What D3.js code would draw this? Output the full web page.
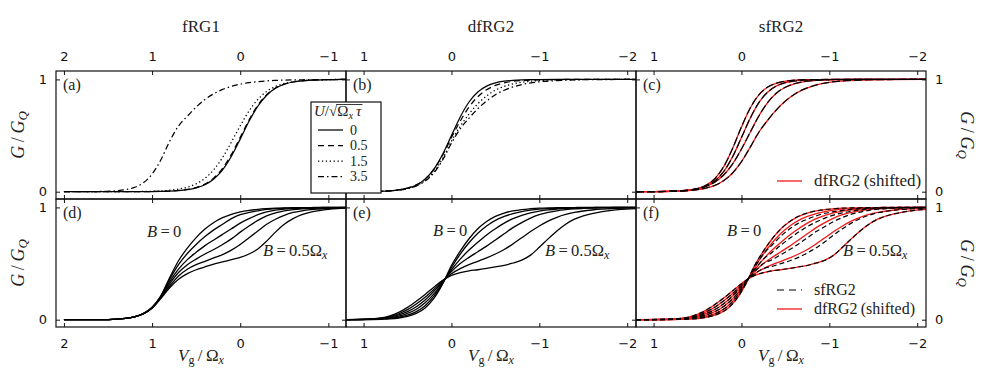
<!DOCTYPE html>
<html><head><meta charset="utf-8">
<script src="https://cdn.jsdelivr.net/npm/d3@7"></script>
<style>body{margin:0;background:#fff}svg{display:block}</style>
</head><body>
<svg id="chart" width="997" height="376"></svg>
<script>
// ---------------- DATA ----------------
const TITLES = ["fRG1", "dfRG2", "sfRG2"];
const PANEL_TAGS = ["(a)", "(b)", "(c)", "(d)", "(e)", "(f)"];
const TICKS_COL1 = [2, 1, 0, -1];
const TICKS_COL23 = [1, 0, -1, -2];
const Y_TICKS = [0, 1];
const U_LABELS = ["0", "0.5", "1.5", "3.5"];

// panel (a): fRG1, U = 0, 0.5, 1.5, 3.5
const A_V = [2.0, 1.8, 1.6, 1.5, 1.4, 1.3, 1.2, 1.1, 1.0, 0.9, 0.8, 0.7, 0.6, 0.5, 0.4, 0.3, 0.2, 0.1, 0.0, -0.1, -0.2, -0.3, -0.4, -0.5, -0.6, -0.7, -0.8, -1.0, -1.2];
const A_U0  = [0, 0, 0, 0, 0.0001, 0.0002, 0.0004, 0.0007, 0.0014, 0.0027, 0.005, 0.0095, 0.018, 0.034, 0.062, 0.113, 0.195, 0.316, 0.468, 0.627, 0.761, 0.859, 0.921, 0.957, 0.977, 0.988, 0.993, 0.998, 1.0];
const A_U05 = [0, 0, 0, 0, 0.0001, 0.0002, 0.0005, 0.0009, 0.0017, 0.003, 0.0057, 0.011, 0.020, 0.037, 0.069, 0.122, 0.208, 0.332, 0.484, 0.639, 0.770, 0.864, 0.923, 0.958, 0.977, 0.988, 0.994, 0.998, 1.0];
const A_U15 = [0, 0, 0.0002, 0.0002, 0.0004, 0.0007, 0.0012, 0.002, 0.004, 0.007, 0.013, 0.023, 0.040, 0.070, 0.119, 0.196, 0.305, 0.442, 0.587, 0.719, 0.822, 0.893, 0.937, 0.964, 0.980, 0.989, 0.994, 0.998, 1.0];
const A_U35 = [0.0001, 0.0004, 0.0018, 0.004, 0.0084, 0.018, 0.038, 0.079, 0.156, 0.285, 0.45, 0.585, 0.673, 0.754, 0.821, 0.872, 0.911, 0.938, 0.958, 0.971, 0.980, 0.987, 0.991, 0.994, 0.996, 0.997, 0.998, 0.999, 1.0];

// panel (b): dfRG2, U = 0, 0.5, 1.5, 3.5
const B_V = [1.2, 1.0, 0.9, 0.8, 0.7, 0.6, 0.5, 0.4, 0.3, 0.2, 0.1, 0.0, -0.1, -0.2, -0.3, -0.4, -0.5, -0.6, -0.7, -0.8, -0.9, -1.0, -1.2, -1.4, -1.7, -2.1];
const B_U0  = [0.0003, 0.001, 0.002, 0.004, 0.008, 0.016, 0.031, 0.060, 0.112, 0.201, 0.334, 0.5, 0.666, 0.799, 0.888, 0.940, 0.969, 0.984, 0.992, 0.996, 0.998, 0.999, 1, 1, 1, 1];
const B_U05 = [0.0003, 0.0012, 0.0023, 0.0045, 0.0087, 0.017, 0.032, 0.061, 0.112, 0.198, 0.325, 0.483, 0.629, 0.754, 0.846, 0.908, 0.947, 0.970, 0.983, 0.990, 0.995, 0.997, 0.999, 1, 1, 1];
const B_U15 = [0.0003, 0.001, 0.002, 0.004, 0.0076, 0.015, 0.028, 0.054, 0.100, 0.178, 0.296, 0.450, 0.583, 0.692, 0.783, 0.853, 0.904, 0.938, 0.960, 0.975, 0.984, 0.990, 0.996, 0.9985, 0.9997, 1];
const B_U35 = [0.0003, 0.001, 0.002, 0.0037, 0.0072, 0.014, 0.027, 0.051, 0.094, 0.168, 0.283, 0.433, 0.560, 0.655, 0.739, 0.808, 0.863, 0.904, 0.933, 0.954, 0.969, 0.979, 0.990, 0.996, 0.9987, 1];

// panel (c): sfRG2 (black) and dfRG2 shifted (red), U = 0, 0.5, 1.5, 3.5 (grid B_V)
const C_U0  = [0.0001, 0.0006, 0.0014, 0.0029, 0.0062, 0.013, 0.028, 0.059, 0.119, 0.226, 0.387, 0.577, 0.746, 0.864, 0.932, 0.967, 0.984, 0.993, 0.997, 0.9985, 0.999, 1, 1, 1, 1, 1];
const C_U05 = [0.0002, 0.0007, 0.0015, 0.003, 0.0062, 0.013, 0.026, 0.051, 0.099, 0.182, 0.312, 0.482, 0.655, 0.796, 0.888, 0.942, 0.971, 0.985, 0.993, 0.996, 0.998, 0.999, 1, 1, 1, 1];
const C_U15 = [0.0004, 0.0013, 0.0024, 0.0044, 0.008, 0.015, 0.027, 0.049, 0.087, 0.151, 0.248, 0.380, 0.530, 0.677, 0.796, 0.879, 0.930, 0.961, 0.979, 0.988, 0.994, 0.997, 0.999, 1, 1, 1];
const C_U35 = [0.0003, 0.001, 0.0017, 0.003, 0.0056, 0.010, 0.018, 0.033, 0.057, 0.100, 0.167, 0.267, 0.397, 0.532, 0.638, 0.731, 0.807, 0.866, 0.909, 0.939, 0.960, 0.974, 0.989, 0.995, 0.999, 1];

// panel (d): fRG1, B = 0 ... 0.5
const D_V = [2.0, 1.6, 1.4, 1.3, 1.2, 1.1, 1.0, 0.9, 0.8, 0.7, 0.6, 0.5, 0.4, 0.3, 0.2, 0.1, 0.0, -0.1, -0.2, -0.3, -0.4, -0.5, -0.6, -0.7, -0.8, -0.9, -1.0, -1.1, -1.2];
const D_B0 = [0, 0.001, 0.006, 0.012, 0.026, 0.055, 0.111, 0.213, 0.375, 0.525, 0.638, 0.731, 0.807, 0.866, 0.909, 0.939, 0.960, 0.974, 0.983, 0.989, 0.993, 0.995, 0.997, 0.998, 0.999, 1, 1, 1, 1];
const D_B1 = [0, 0.001, 0.006, 0.012, 0.026, 0.054, 0.109, 0.21, 0.36, 0.49, 0.59, 0.67, 0.74, 0.80, 0.85, 0.90, 0.935, 0.955, 0.970, 0.982, 0.989, 0.993, 0.995, 0.997, 0.998, 0.999, 1, 1, 1];
const D_B2 = [0, 0.001, 0.006, 0.012, 0.026, 0.053, 0.107, 0.205, 0.34, 0.45, 0.535, 0.60, 0.66, 0.71, 0.76, 0.81, 0.86, 0.90, 0.935, 0.96, 0.975, 0.985, 0.99, 0.994, 0.996, 0.997, 0.998, 0.999, 1];
const D_B3 = [0, 0.001, 0.006, 0.012, 0.026, 0.053, 0.106, 0.20, 0.32, 0.42, 0.49, 0.54, 0.585, 0.625, 0.67, 0.72, 0.78, 0.835, 0.885, 0.925, 0.952, 0.97, 0.98, 0.987, 0.992, 0.994, 0.996, 0.998, 0.999];
const D_B4 = [0, 0.001, 0.006, 0.012, 0.025, 0.052, 0.105, 0.195, 0.30, 0.39, 0.45, 0.49, 0.52, 0.55, 0.58, 0.62, 0.67, 0.73, 0.79, 0.85, 0.895, 0.93, 0.955, 0.97, 0.98, 0.986, 0.991, 0.995, 0.997];
const D_B5 = [0, 0.001, 0.006, 0.012, 0.025, 0.052, 0.103, 0.19, 0.285, 0.36, 0.41, 0.445, 0.47, 0.495, 0.515, 0.535, 0.555, 0.585, 0.63, 0.70, 0.78, 0.85, 0.90, 0.935, 0.958, 0.972, 0.982, 0.989, 0.993];

// panel (e): dfRG2, B = 0 ... 0.5
const E_V = [1.2, 1.0, 0.9, 0.8, 0.7, 0.6, 0.5, 0.4, 0.3, 0.2, 0.1, 0.0, -0.1, -0.2, -0.3, -0.4, -0.5, -0.6, -0.7, -0.8, -0.9, -1.0, -1.1, -1.2, -1.3, -1.4, -1.5, -1.6, -1.7, -1.8, -1.9, -2.1];
const E_B0 = [0.0002, 0.001, 0.002, 0.004, 0.0074, 0.015, 0.029, 0.056, 0.105, 0.190, 0.319, 0.483, 0.611, 0.721, 0.810, 0.875, 0.921, 0.950, 0.969, 0.981, 0.988, 0.993, 0.996, 0.997, 0.998, 0.999, 1, 1, 1, 1, 1, 1];
const E_B1 = [0.0003, 0.0015, 0.003, 0.006, 0.012, 0.022, 0.04, 0.072, 0.125, 0.21, 0.325, 0.465, 0.585, 0.685, 0.77, 0.835, 0.885, 0.92, 0.945, 0.963, 0.975, 0.984, 0.99, 0.993, 0.995, 0.997, 0.998, 0.999, 1, 1, 1, 1];
const E_B2 = [0.0005, 0.002, 0.004, 0.009, 0.018, 0.032, 0.056, 0.093, 0.15, 0.23, 0.333, 0.445, 0.54, 0.62, 0.69, 0.755, 0.81, 0.86, 0.9, 0.93, 0.952, 0.967, 0.978, 0.986, 0.991, 0.994, 0.996, 0.997, 0.998, 0.999, 1, 1];
const E_B3 = [0.0007, 0.0025, 0.005, 0.011, 0.023, 0.042, 0.072, 0.115, 0.175, 0.252, 0.34, 0.428, 0.5, 0.555, 0.605, 0.655, 0.71, 0.765, 0.82, 0.865, 0.905, 0.935, 0.955, 0.97, 0.98, 0.987, 0.991, 0.994, 0.996, 0.997, 0.998, 0.999];
const E_B4 = [0.0009, 0.003, 0.0065, 0.013, 0.028, 0.053, 0.09, 0.14, 0.20, 0.27, 0.345, 0.41, 0.455, 0.49, 0.52, 0.55, 0.585, 0.625, 0.675, 0.73, 0.785, 0.835, 0.878, 0.912, 0.937, 0.955, 0.968, 0.977, 0.984, 0.988, 0.992, 0.996];
const E_B5 = [0.001, 0.004, 0.008, 0.016, 0.035, 0.065, 0.11, 0.165, 0.225, 0.29, 0.35, 0.395, 0.42, 0.435, 0.445, 0.457, 0.47, 0.483, 0.505, 0.53, 0.575, 0.645, 0.72, 0.79, 0.85, 0.895, 0.925, 0.945, 0.96, 0.972, 0.98, 0.99];

// panel (f): shifted gate-voltage grid for dfRG2 (red) and sfRG2 (black dashed)
const F_V = [1.2, 0.85, 0.75, 0.65, 0.55, 0.45, 0.35, 0.25, 0.15, 0.05, -0.05, -0.15, -0.25, -0.35, -0.45, -0.55, -0.65, -0.75, -0.85, -0.95, -1.05, -1.15, -1.25, -1.35, -1.45, -1.55, -1.65, -1.75, -1.85, -1.95, -2.05, -2.25];
const F_SF_B0 = E_B0;
const F_SF_B1 = [0.0003, 0.0015, 0.003, 0.006, 0.012, 0.022, 0.04, 0.072, 0.125, 0.21, 0.325, 0.465, 0.585, 0.665, 0.745, 0.81, 0.86, 0.895, 0.925, 0.948, 0.962, 0.973, 0.983, 0.989, 0.993, 0.996, 0.998, 0.999, 1, 1, 1, 1];
const F_SF_B2 = [0.0005, 0.002, 0.004, 0.009, 0.018, 0.032, 0.056, 0.093, 0.15, 0.23, 0.333, 0.445, 0.54, 0.60, 0.665, 0.725, 0.78, 0.83, 0.87, 0.905, 0.932, 0.952, 0.966, 0.978, 0.987, 0.992, 0.995, 0.997, 0.998, 0.999, 1, 1];
const F_SF_B3 = [0.0007, 0.0025, 0.005, 0.011, 0.023, 0.042, 0.072, 0.115, 0.175, 0.252, 0.34, 0.428, 0.5, 0.535, 0.58, 0.625, 0.675, 0.73, 0.785, 0.83, 0.875, 0.91, 0.94, 0.958, 0.974, 0.984, 0.989, 0.993, 0.995, 0.997, 0.998, 0.999];
const F_SF_B4 = [0.0009, 0.003, 0.0065, 0.013, 0.028, 0.053, 0.09, 0.14, 0.20, 0.27, 0.345, 0.41, 0.455, 0.475, 0.5, 0.525, 0.555, 0.595, 0.64, 0.695, 0.755, 0.81, 0.86, 0.9, 0.93, 0.952, 0.966, 0.976, 0.983, 0.988, 0.992, 0.996];
const F_SF_B5 = E_B5;

// ---------------- DRAWING ----------------
const SERIF = "'Liberation Serif','DejaVu Serif',serif";
const SANS = "'DejaVu Sans','Liberation Sans',sans-serif";
const RED = "#f01818";
const U_DASH = [null, "6,4", "1.3,2.6", "6,3,1.5,3"];

const svg = d3.select("#chart");
const colX = [56, 346, 636], W = 290;
const rowY = [71, 199], H = 128;
const Y_DOM = [-0.065, 1.075];

function zip(xs, ys) { return xs.map((v, i) => [v, ys[i]]); }

const layerCurves = svg.append("g");
const layerAxes = svg.append("g");
const layerText = svg.append("g");

function makePanel(col, row, xDom) {
  const x = d3.scaleLinear().domain(xDom).range([colX[col], colX[col] + W]);
  const y = d3.scaleLinear().domain(Y_DOM).range([rowY[row] + H, rowY[row]]);
  const id = "clip" + col + "_" + row;
  svg.append("clipPath").attr("id", id).append("rect")
    .attr("x", colX[col]).attr("y", rowY[row]).attr("width", W).attr("height", H);
  const plot = layerCurves.append("g").attr("clip-path", `url(#${id})`);
  const line = d3.line().x(d => x(d[0])).y(d => y(d[1])).curve(d3.curveMonotoneX);
  const ticks = col === 0 ? TICKS_COL1 : TICKS_COL23;
  const g = layerAxes.append("g");
  const fmt = d3.format("d");
  const none = () => "";
  g.append("g").attr("transform", `translate(0,${rowY[row]})`)
    .call(d3.axisTop(x).tickValues(ticks).tickSizeInner(-4).tickSizeOuter(0).tickPadding(10)
      .tickFormat(row === 0 ? fmt : none));
  g.append("g").attr("transform", `translate(0,${rowY[row] + H})`)
    .call(d3.axisBottom(x).tickValues(ticks).tickSizeInner(-4).tickSizeOuter(0).tickPadding(12)
      .tickFormat(row === 1 ? fmt : none));
  g.append("g").attr("transform", `translate(${colX[col]},0)`)
    .call(d3.axisLeft(y).tickValues(Y_TICKS).tickSizeInner(-4).tickSizeOuter(0).tickPadding(9)
      .tickFormat(col === 0 ? fmt : none));
  g.append("g").attr("transform", `translate(${colX[col] + W},0)`)
    .call(d3.axisRight(y).tickValues(Y_TICKS).tickSizeInner(-4).tickSizeOuter(0).tickPadding(9)
      .tickFormat(col === 2 ? fmt : none));
  g.selectAll(".domain").remove();
  g.selectAll(".tick line").attr("stroke", "#111").attr("stroke-width", 1);
  g.selectAll("g").attr("font-family", SANS).attr("font-size", 13);
  g.selectAll(".tick text").attr("fill", "#111");
  g.append("rect").attr("x", colX[col]).attr("y", rowY[row]).attr("width", W).attr("height", H)
    .attr("fill", "none").attr("stroke", "#111").attr("stroke-width", 1.2);
  layerText.append("text").attr("x", colX[col] + 7).attr("y", rowY[row] + 18.5)
    .attr("font-family", SERIF).attr("font-size", 16).attr("fill", "#222")
    .text(PANEL_TAGS[row * 3 + col]);
  return { x, y, plot, line };
}

function curve(p, xs, ys, stroke, dash, width) {
  p.plot.append("path").datum(zip(xs, ys)).attr("d", p.line)
    .attr("fill", "none").attr("stroke", stroke).attr("stroke-width", width || 1.25)
    .attr("stroke-dasharray", dash || null);
}

const domA = [2.09, -1.2], domB = [1.2, -2.1];
const pa = makePanel(0, 0, domA), pb = makePanel(1, 0, domB), pc = makePanel(2, 0, domB);
const pd = makePanel(0, 1, domA), pe = makePanel(1, 1, domB), pf = makePanel(2, 1, domB);

[A_U0, A_U05, A_U15, A_U35].forEach((s, i) => curve(pa, A_V, s, "#000", U_DASH[i]));
[B_U0, B_U05, B_U15, B_U35].forEach((s, i) => curve(pb, B_V, s, "#000", U_DASH[i]));
[C_U0, C_U05, C_U15, C_U35].forEach(s => curve(pc, B_V, s, RED, null, 1.3));
[C_U0, C_U05, C_U15, C_U35].forEach(s => curve(pc, B_V, s, "#000", "8,3", 1.2));
[D_B0, D_B1, D_B2, D_B3, D_B4, D_B5].forEach(s => curve(pd, D_V, s, "#000", null, 1.3));
[E_B0, E_B1, E_B2, E_B3, E_B4, E_B5].forEach(s => curve(pe, E_V, s, "#000", null, 1.3));
[E_B0, E_B1, E_B2, E_B3, E_B4, E_B5].forEach(s => curve(pf, F_V, s, RED, null, 1.3));
[F_SF_B0, F_SF_B1, F_SF_B2, F_SF_B3, F_SF_B4, F_SF_B5].forEach(s => curve(pf, F_V, s, "#000", "5,3", 1.2));

TITLES.forEach((t, i) => layerText.append("text").attr("x", colX[i] + W / 2).attr("y", 31.5)
  .attr("text-anchor", "middle").attr("font-family", SERIF).attr("font-size", 17).attr("fill", "#222").text(t));

function gqLabel(cx, cy, rot) {
  const t = layerText.append("text").attr("transform", `translate(${cx},${cy}) rotate(${rot})`)
    .attr("text-anchor", "middle").attr("dominant-baseline", "central")
    .attr("font-family", SERIF).attr("font-size", 18).attr("fill", "#222");
  t.append("tspan").attr("font-style", "italic").text("G");
  t.append("tspan").text("\u2009/\u2009");
  t.append("tspan").attr("font-style", "italic").text("G");
  t.append("tspan").attr("font-style", "italic").attr("font-size", 13).attr("dy", 4).text("Q");
}
rowY.forEach(ry => { gqLabel(18, ry + H / 2, -90); gqLabel(967, ry + H / 2, 90); });

colX.forEach(cx => {
  const t = layerText.append("text").attr("x", cx + W / 2).attr("y", 361).attr("text-anchor", "middle")
    .attr("font-family", SERIF).attr("font-size", 17).attr("fill", "#222");
  t.append("tspan").attr("font-style", "italic").text("V");
  t.append("tspan").attr("font-size", 12).attr("dy", 3).text("g");
  t.append("tspan").attr("dy", -3).text("\u2009/\u2009\u03A9");
  t.append("tspan").attr("font-style", "italic").attr("font-size", 12).attr("dy", 3).text("x");
});

function bLabel(x, y, half) {
  const t = layerText.append("text").attr("x", x).attr("y", y)
    .attr("font-family", SERIF).attr("font-size", 16.5).attr("fill", "#222");
  t.append("tspan").attr("font-style", "italic").text("B");
  if (!half) { t.append("tspan").text("\u2009=\u20090"); }
  else {
    t.append("tspan").text("\u2009=\u20090.5\u03A9");
    t.append("tspan").attr("font-style", "italic").attr("font-size", 12).attr("dy", 3).text("x");
  }
}
bLabel(147, 237, false); bLabel(263, 256, true);
bLabel(433, 236, false); bLabel(545, 256, true);
bLabel(727, 236, false); bLabel(843, 256, true);

// legend (a)/(b)
const lg = layerText.append("g");
lg.append("rect").attr("x", 311).attr("y", 102).attr("width", 70).attr("height", 91)
  .attr("fill", "#fff").attr("stroke", "#111").attr("stroke-width", 1.2);
const t1 = lg.append("text").attr("x", 314).attr("y", 116).attr("font-family", SERIF).attr("font-size", 15).attr("fill", "#222");
t1.append("tspan").attr("font-style", "italic").text("U");
t1.append("tspan").text("/\u221A");
const w1 = t1.node().getComputedTextLength();
const t2 = lg.append("text").attr("x", 314 + w1).attr("y", 116).attr("font-family", SERIF).attr("font-size", 15).attr("fill", "#222");
t2.append("tspan").text("\u03A9");
t2.append("tspan").attr("font-style", "italic").attr("font-size", 10.5).attr("dy", 2.5).text("x");
t2.append("tspan").attr("font-style", "italic").attr("dy", -2.5).text("\u2009\u03C4");
const w2 = t2.node().getComputedTextLength();
lg.append("line").attr("x1", 314 + w1 - 1).attr("x2", 314 + w1 + w2 + 1).attr("y1", 104.5).attr("y2", 104.5)
  .attr("stroke", "#222").attr("stroke-width", 0.9);
const legY = [130, 145.5, 161, 176.5];
U_LABELS.forEach((lab, i) => {
  lg.append("line").attr("x1", 318).attr("x2", 343).attr("y1", legY[i]).attr("y2", legY[i])
    .attr("stroke", "#000").attr("stroke-width", 1.25).attr("stroke-dasharray", U_DASH[i]);
  lg.append("text").attr("x", 350).attr("y", legY[i] + 4.5).attr("font-family", SERIF).attr("font-size", 14)
    .attr("fill", "#222").text(lab);
});

// legend (c)
layerText.append("line").attr("x1", 777).attr("x2", 802).attr("y1", 181).attr("y2", 181).attr("stroke", RED).attr("stroke-width", 1.3);
layerText.append("text").attr("x", 814).attr("y", 186).attr("font-family", SERIF).attr("font-size", 17).attr("fill", "#222").text("dfRG2\u2009(shifted)");
// legend (f)
layerText.append("line").attr("x1", 777).attr("x2", 802).attr("y1", 290).attr("y2", 290).attr("stroke", "#000").attr("stroke-width", 1.2).attr("stroke-dasharray", "7,5");
layerText.append("text").attr("x", 814).attr("y", 295).attr("font-family", SERIF).attr("font-size", 16).attr("fill", "#222").text("sfRG2");
layerText.append("line").attr("x1", 777).attr("x2", 802).attr("y1", 309).attr("y2", 309).attr("stroke", RED).attr("stroke-width", 1.3);
layerText.append("text").attr("x", 814).attr("y", 314).attr("font-family", SERIF).attr("font-size", 16).attr("fill", "#222").text("dfRG2\u2009(shifted)");
</script>
</body></html>
